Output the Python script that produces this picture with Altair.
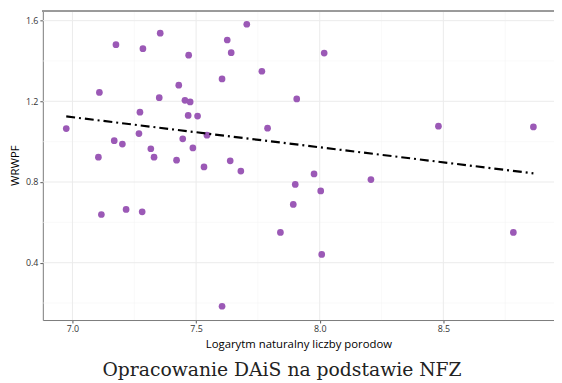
import altair as alt
import pandas as pd

# Scatter data
log_births = [6.975, 7.109, 7.176, 7.105, 7.117, 7.169, 7.202, 7.217, 7.285, 7.273,
              7.269, 7.282, 7.317, 7.330, 7.355, 7.351, 7.421, 7.430, 7.446, 7.455,
              7.470, 7.476, 7.468, 7.487, 7.506, 7.532, 7.544, 7.605, 7.626, 7.642,
              7.638, 7.705, 7.681, 7.605, 7.766, 7.789, 7.841, 7.893, 7.901, 7.907,
              7.977, 8.004, 8.008, 8.018, 8.207, 8.480, 8.783, 8.864]
wrwpf = [1.065, 1.244, 1.481, 0.923, 0.639, 1.005, 0.988, 0.664, 1.461, 1.146,
         1.040, 0.652, 0.965, 0.923, 1.538, 1.218, 0.908, 1.280, 1.014, 1.205,
         1.429, 1.197, 1.130, 0.969, 1.127, 0.875, 1.032, 1.311, 1.504, 1.441,
         0.905, 1.582, 0.854, 0.184, 1.349, 1.067, 0.550, 0.689, 0.788, 1.212,
         0.840, 0.756, 0.441, 1.439, 0.812, 1.077, 0.550, 1.073]

x_major = [7.0, 7.5, 8.0, 8.5]
x_minor = [7.25, 7.75, 8.25, 8.75]
y_major = [0.4, 0.8, 1.2, 1.6]
y_minor = [0.2, 0.6, 1.0, 1.4]

x_domain = [6.8803, 8.9473]
y_domain = [0.1157, 1.6504]

W, H = 518, 313.7
FONT = "Open Sans"

df = pd.DataFrame({"x": log_births, "y": wrwpf})

xs = alt.Scale(domain=x_domain, nice=False, zero=False)
ys = alt.Scale(domain=y_domain, nice=False, zero=False)

x_axis = alt.Axis(values=x_major, format=".1f", grid=False, domainColor="#7a7a7a",
                  domainWidth=1, tickColor="#555555", tickSize=3, tickWidth=1,
                  labelFont=FONT, labelFontSize=9, labelColor="#333333", labelPadding=2,
                  title="Logarytm naturalny liczby porodow", titleFont=FONT,
                  titleFontSize=11.5, titleFontWeight="normal", titleColor="#000000",
                  titlePadding=5)
y_axis = alt.Axis(values=y_major, format=".1f", grid=False, domainColor="#7a7a7a",
                  domainWidth=1, tickColor="#555555", tickSize=3, tickWidth=1,
                  labelFont=FONT, labelFontSize=9, labelColor="#333333", labelPadding=2,
                  title="WRWPF", titleFont=FONT, titleFontSize=11.5,
                  titleFontWeight="normal", titleColor="#000000", titlePadding=5)

def vgrid(vals, color, width):
    return alt.Chart(pd.DataFrame({"v": vals})).mark_rule(color=color, strokeWidth=width).encode(
        x=alt.X("v:Q", scale=xs, axis=x_axis))

def hgrid(vals, color, width):
    return alt.Chart(pd.DataFrame({"v": vals})).mark_rule(color=color, strokeWidth=width).encode(
        y=alt.Y("v:Q", scale=ys, axis=y_axis))

grid = (vgrid(x_minor, "#f5f5f5", 0.6) + hgrid(y_minor, "#f5f5f5", 0.6)
        + vgrid(x_major, "#ebebeb", 1) + hgrid(y_major, "#ebebeb", 1))

top_border = alt.Chart(df).mark_rule(color="#9a9a9a", strokeWidth=1).encode(
    x=alt.value(0), x2=alt.value(W), y=alt.value(0.5))

base = alt.Chart(df)
points = base.mark_circle(size=46, color="#9b59b6", opacity=1).encode(
    x=alt.X("x:Q", scale=xs, axis=x_axis),
    y=alt.Y("y:Q", scale=ys, axis=y_axis))

trend = base.transform_regression("x", "y").mark_line(
    color="#000000", strokeWidth=2.2, strokeDash=[9, 4, 2, 4]).encode(
    x=alt.X("x:Q", scale=xs, axis=x_axis), y=alt.Y("y:Q", scale=ys, axis=y_axis))

chart = alt.layer(grid, top_border, points, trend).properties(
    width=W, height=H,
    autosize=alt.AutoSizeParams(type="none"),
    padding={"left": 35.3, "top": 0, "right": 0, "bottom": 62},
    title=alt.TitleParams("Opracowanie DAiS na podstawie NFZ", orient="bottom",
                          anchor="middle", frame="bounds", font="DejaVu Serif",
                          fontSize=19, fontWeight="normal", color="#222222", offset=11),
).configure_view(stroke=None)

chart.save("out.html", embed_options={"renderer": "svg", "actions": False})
